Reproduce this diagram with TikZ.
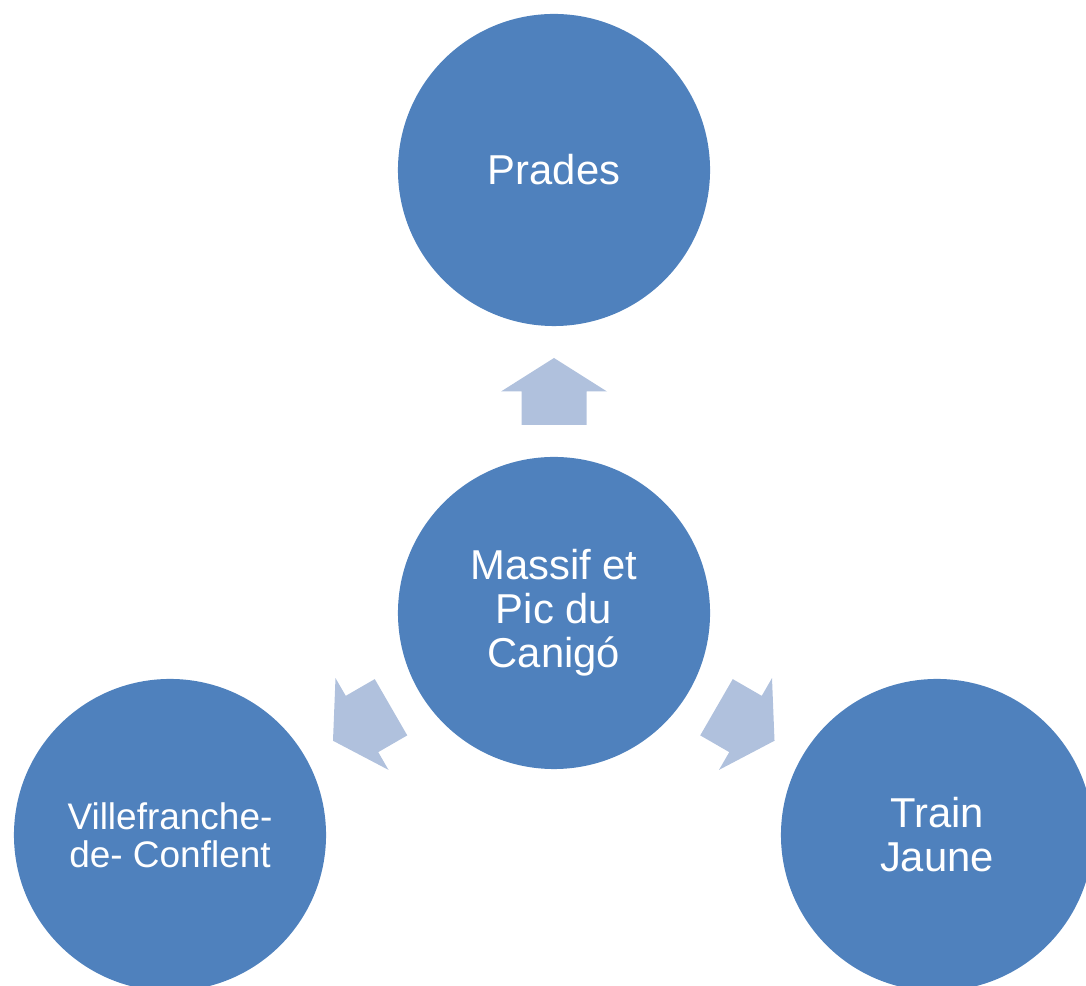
\documentclass[tikz,border=0pt]{standalone}
\usepackage{fontspec}
\setmainfont{Liberation Sans}
\usetikzlibrary{calc}
\definecolor{bubbleblue}{RGB}{79,129,189}
\definecolor{arrowblue}{RGB}{176,193,221}
\def\blockarrow(#1)(#2){\fill[arrowblue, shift={(#1)}, rotate=#2] (-33.5,-32.5) -- (0,-32.5) -- (0,-53) -- (33.5,0) -- (0,53) -- (0,32.5) -- (-33.5,32.5) -- cycle;}

\begin{document}
\begin{tikzpicture}[x=0.025cm, y=0.025cm,
	bubble/.style={circle, fill=bubbleblue, minimum size=7.8cm, inner sep=0pt, text=white, align=center, font=\fontsize{29.7}{31.3}\selectfont}]
			%%%%% START %%%%%
			
			\clip (0, 0) rectangle (1086, 986);
			
			\node[bubble] (canigo) at (554, 373) {Massif et\\Pic du\\Canigó};
			\node[bubble] (prades) at (554, 816) {Prades};
			\node[bubble, font=\fontsize{26.3}{27.2}\selectfont] (villefranche) at (170, 151) {Villefranche-\\de- Conflent};
			\node[bubble] (train) at (937, 151) {Train\\Jaune};
			
			\coordinate (upmid) at ($(canigo)!0.5!(prades)$);
			\coordinate (leftmid) at ($(canigo)!0.5!(villefranche)$);
			\coordinate (rightmid) at ($(canigo)!0.5!(train)$);
			
			\blockarrow(upmid)(90)
			\blockarrow(leftmid)(210)
			\blockarrow(rightmid)(-30)
			
			%%%%% END %%%%%
\end{tikzpicture}
\end{document}
